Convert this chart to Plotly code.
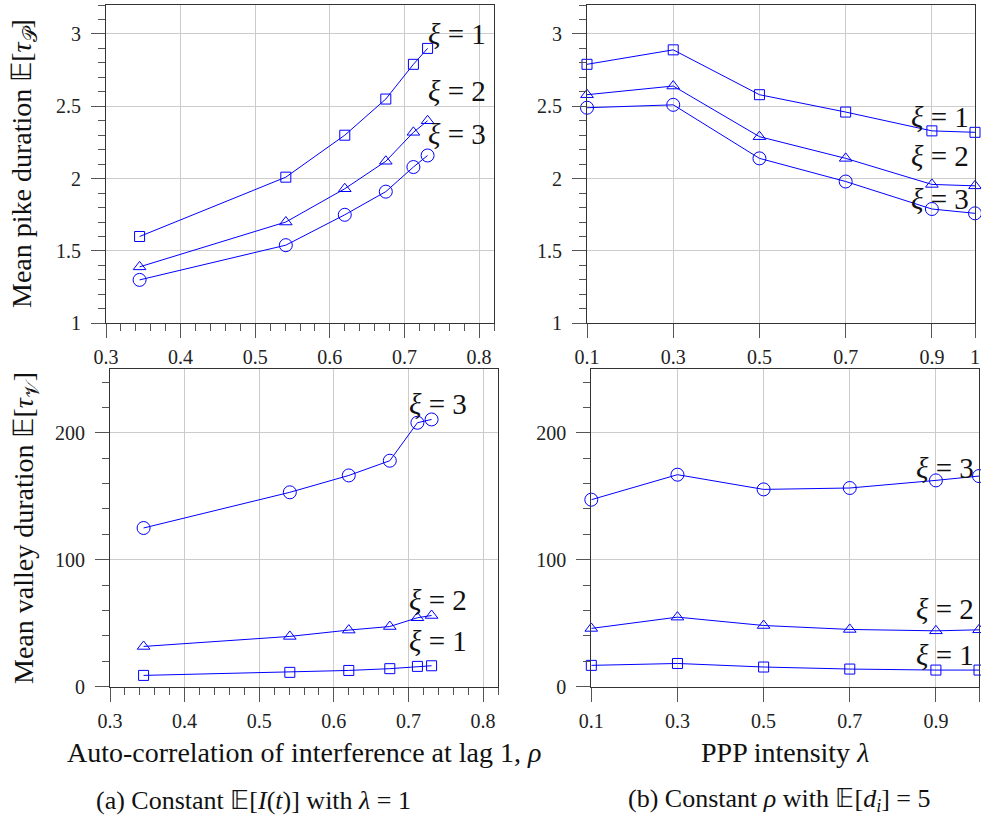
import plotly.graph_objects as go

# ---------------- data ----------------
rho = [0.345, 0.541, 0.620, 0.675, 0.712, 0.731]
lam = [0.1, 0.3, 0.5, 0.7, 0.9, 1.0]
lam_ticks = [0.1, 0.3, 0.5, 0.7, 0.9, 1.0]
lam_tick_labels = ["0.1", "0.3", "0.5", "0.7", "0.9", "1"]

pike_rho_xi1 = [1.60, 2.01, 2.30, 2.55, 2.79, 2.90]
pike_rho_xi2 = [1.39, 1.70, 1.93, 2.12, 2.32, 2.40]
pike_rho_xi3 = [1.30, 1.54, 1.75, 1.91, 2.08, 2.16]

pike_lam_xi1 = [2.79, 2.89, 2.58, 2.46, 2.33, 2.32]
pike_lam_xi2 = [2.58, 2.64, 2.29, 2.14, 1.96, 1.95]
pike_lam_xi3 = [2.49, 2.51, 2.14, 1.98, 1.79, 1.76]

valley_rho_xi1 = [8.9, 11.3, 12.8, 14.2, 16.0, 16.5]
valley_rho_xi2 = [31.7, 39.6, 44.6, 47.4, 54.3, 56.1]
valley_rho_xi3 = [125.0, 153.1, 166.4, 178.0, 207.9, 210.5]

valley_lam_xi1 = [16.8, 18.3, 15.5, 13.9, 13.1, 13.1]
valley_lam_xi2 = [45.9, 54.8, 48.2, 45.1, 44.0, 44.8]
valley_lam_xi3 = [147.3, 167.0, 155.4, 156.5, 162.5, 165.9]

xi_labels = ["<i>ξ</i> = 1", "<i>ξ</i> = 2", "<i>ξ</i> = 3"]

# ---------------- style ----------------
W, H = 981, 821
BLUE = "#0000ff"
SERIF = "Liberation Serif"
symbols = ["square-open", "triangle-up-open", "circle-open"]
sizes = [10, 11, 13]

fig = go.Figure()


def add_series(xs, ys_list, xa, ya):
    for ys, sym, sz in zip(ys_list, symbols, sizes):
        fig.add_trace(go.Scatter(
            x=xs, y=ys, mode="lines+markers", xaxis=xa, yaxis=ya,
            line=dict(color=BLUE, width=1),
            marker=dict(symbol=sym, size=sz, color=BLUE, line=dict(color=BLUE, width=1)),
            cliponaxis=False, showlegend=False, hoverinfo="skip"))


add_series(rho, [pike_rho_xi1, pike_rho_xi2, pike_rho_xi3], "x", "y")
add_series(lam, [pike_lam_xi1, pike_lam_xi2, pike_lam_xi3], "x2", "y2")
add_series(rho, [valley_rho_xi1, valley_rho_xi2, valley_rho_xi3], "x3", "y3")
add_series(lam, [valley_lam_xi1, valley_lam_xi2, valley_lam_xi3], "x4", "y4")


def px_x(p):
    return p / W


def px_y(p):
    return 1 - p / H


TICKC = "#555555"
base = dict(showline=True, linecolor="#333333", linewidth=1, mirror=True,
            ticks="outside", ticklen=14, tickcolor=TICKC, tickwidth=1,
            showgrid=True, gridcolor="#cccccc", gridwidth=1, zeroline=False,
            automargin=False,
            tickfont=dict(family=SERIF, size=20, color="#222222"))
minor_x = dict(ticks="outside", ticklen=7, dtick=0.02, tickcolor=TICKC, showgrid=False)


def ax(**kw):
    d = dict(base)
    d.update(kw)
    return d


top_dom = [px_y(323.3), px_y(5)]
bot_dom = [px_y(686.7), px_y(369.3)]
YSO = 6

fig.update_layout(
    template="none",
    width=W, height=H, margin=dict(l=0, r=0, t=0, b=0, autoexpand=False),
    plot_bgcolor="white", paper_bgcolor="white",
    font=dict(family=SERIF, color="#111111"),
    xaxis=ax(domain=[px_x(106), px_x(494)], range=[0.3, 0.82], tick0=0.3, dtick=0.1,
             minor=minor_x, anchor="y", ticklabelstandoff=2),
    yaxis=ax(domain=top_dom, range=[1, 3.2], tick0=1, dtick=0.5, anchor="x",
             minor=dict(ticks="outside", ticklen=7, dtick=0.1, tickcolor=TICKC, showgrid=False),
             ticklabelstandoff=YSO),
    xaxis2=ax(domain=[px_x(587), px_x(975)], range=[0.1, 1.0], tickvals=lam_ticks,
              ticktext=lam_tick_labels, anchor="y2", ticklabelstandoff=2),
    yaxis2=ax(domain=top_dom, range=[1, 3.2], tick0=1, dtick=0.5, anchor="x2",
              minor=dict(ticks="outside", ticklen=7, dtick=0.1, tickcolor=TICKC, showgrid=False),
              ticklabelstandoff=YSO),
    xaxis3=ax(domain=[px_x(110), px_x(498)], range=[0.3, 0.82], tick0=0.3, dtick=0.1,
              minor=minor_x, anchor="y3", ticklabelstandoff=2),
    yaxis3=ax(domain=bot_dom, range=[0, 250], tick0=0, dtick=100, anchor="x3",
              minor=dict(ticks="outside", ticklen=7, dtick=20, tickcolor=TICKC, showgrid=False),
              ticklabelstandoff=YSO),
    xaxis4=ax(domain=[px_x(591.3), px_x(979)], range=[0.1, 1.0], tickvals=lam_ticks,
              ticktext=lam_tick_labels, anchor="y4", ticklabelstandoff=2),
    yaxis4=ax(domain=bot_dom, range=[0, 250], tick0=0, dtick=100, anchor="x4",
              minor=dict(ticks="outside", ticklen=7, dtick=20, tickcolor=TICKC, showgrid=False),
              ticklabelstandoff=YSO),
)

ann = []
label_pos = [
    ("x", "y", [(0.770, 3.0), (0.770, 2.607), (0.770, 2.305)]),
    ("x2", "y2", [(0.918, 2.423), (0.918, 2.155), (0.918, 1.857)]),
    ("x3", "y3", [(0.739, 36.2), (0.739, 68.2), (0.739, 222.8)]),
    ("x4", "y4", [(0.920, 24.9), (0.920, 61.1), (0.920, 172.5)]),
]
for xr, yr, pts in label_pos:
    for txt, (lx, ly) in zip(xi_labels, pts):
        ann.append(dict(x=lx, y=ly, xref=xr, yref=yr, text=txt, showarrow=False,
                        font=dict(family=SERIF, size=29, color="#111111"),
                        xanchor="center", yanchor="middle"))

# axis titles
ann.append(dict(x=px_x(24), y=px_y(164), xref="paper", yref="paper", textangle=-90,
                text="Mean pike duration 𝔼[<i>τ</i><sub>𝒫</sub>]", showarrow=False,
                font=dict(family=SERIF, size=28, color="#111111"), xanchor="center", yanchor="middle"))
ann.append(dict(x=px_x(25), y=px_y(528), xref="paper", yref="paper", textangle=-90,
                text="Mean valley duration 𝔼[<i>τ</i><sub>𝒱</sub>]", showarrow=False,
                font=dict(family=SERIF, size=28, color="#111111"), xanchor="center", yanchor="middle"))
ann.append(dict(x=px_x(304), y=px_y(752), xref="paper", yref="paper",
                text="Auto-correlation of interference at lag 1, <i>ρ</i>", showarrow=False,
                font=dict(family=SERIF, size=28, color="#111111"), xanchor="center", yanchor="middle"))
ann.append(dict(x=px_x(785), y=px_y(752), xref="paper", yref="paper",
                text="PPP intensity <i>λ</i>", showarrow=False,
                font=dict(family=SERIF, size=28, color="#111111"), xanchor="center", yanchor="middle"))
# captions
ann.append(dict(x=px_x(253), y=px_y(800), xref="paper", yref="paper",
                text="(a) Constant 𝔼[<i>I</i>(<i>t</i>)] with <i>λ</i> = 1", showarrow=False,
                font=dict(family=SERIF, size=26, color="#111111"), xanchor="center", yanchor="middle"))
ann.append(dict(x=px_x(779), y=px_y(800), xref="paper", yref="paper",
                text="(b) Constant <i>ρ</i> with 𝔼[<i>d<sub>i</sub></i>] = 5", showarrow=False,
                font=dict(family=SERIF, size=26, color="#111111"), xanchor="center", yanchor="middle"))

fig.update_layout(annotations=ann)
fig.write_html("out.html")
